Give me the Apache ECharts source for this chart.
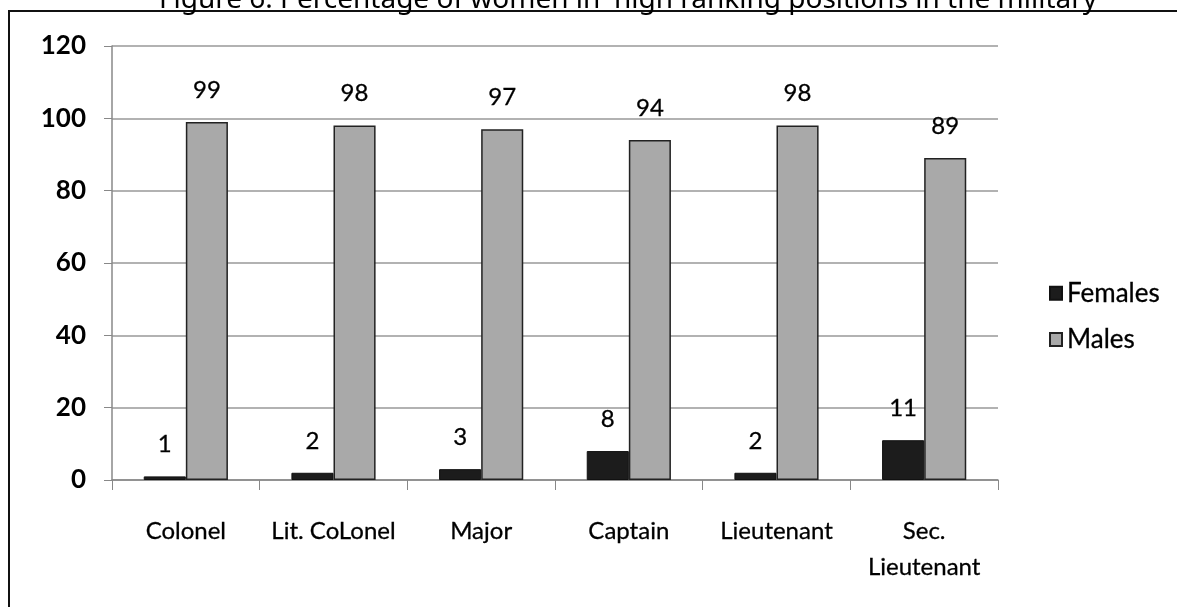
<!DOCTYPE html>
<html>
<head>
<meta charset="utf-8">
<script src="https://cdn.jsdelivr.net/npm/echarts@6/dist/echarts.min.js"></script>
<style>html,body{margin:0;padding:0;background:#fff}#c{width:1177px;height:607px}</style>
</head>
<body>
<div id="c"></div>
<script>
const titleText = "Figure 6: Percentage of women in 'high ranking positions in the military";
const categories = ['Colonel', 'Lit. CoLonel', 'Major', 'Captain', 'Lieutenant', 'Sec.\nLieutenant'];
const females = [1, 2, 3, 8, 2, 11];
const males = [99, 98, 97, 94, 98, 89];
const seriesNames = ['Females', 'Males'];

const chart = echarts.init(document.getElementById('c'));
const thick = {textBorderColor: '#000', textBorderWidth: 0.3};
const lbl = Object.assign({show: true, position: 'top', distance: 20, fontFamily: 'Lato', fontSize: 24, color: '#000'}, thick);
chart.setOption({
  animation: false,
  backgroundColor: '#fff',
  graphic: [
    {type: 'polyline', shape: {points: [[9, 607], [9, 11], [1177, 11]]}, style: {stroke: '#111', lineWidth: 2, fill: null}},
    {type: 'text', x: 628, y: 14, style: {text: titleText, fontFamily: 'Noto Sans', fontSize: 28, fill: '#000', textAlign: 'center', textVerticalAlign: 'bottom', verticalAlign: 'bottom'}}
  ],
  grid: {left: 112, right: 179, top: 46, bottom: 127},
  legend: {
    orient: 'vertical', left: 1044, top: 275, itemGap: 20, itemWidth: 12, itemHeight: 13, icon: 'rect',
    textStyle: Object.assign({fontFamily: 'Lato', fontSize: 26, color: '#000'}, thick),
    data: seriesNames
  },
  xAxis: {
    type: 'category', data: categories,
    axisLine: {lineStyle: {color: '#888', width: 1.5}},
    axisTick: {show: true, length: 10, alignWithLabel: false, lineStyle: {color: '#888'}},
    axisLabel: Object.assign({fontFamily: 'Lato', fontSize: 24, color: '#000', margin: 33, lineHeight: 36, interval: 0}, thick)
  },
  yAxis: {
    type: 'value', min: 0, max: 120, interval: 20,
    axisLine: {show: true, lineStyle: {color: '#888', width: 1.5}},
    axisTick: {show: true, length: 8, lineStyle: {color: '#888'}},
    splitLine: {lineStyle: {color: '#999', width: 1.5}},
    axisLabel: {fontFamily: 'Lato', fontWeight: 'bold', fontSize: 26, color: '#000', margin: 26}
  },
  series: [
    {name: seriesNames[0], type: 'bar', data: females, barGap: '0%', barCategoryGap: '43%',
     itemStyle: {color: '#1c1c1c', borderColor: '#111', borderWidth: 1}, label: lbl},
    {name: seriesNames[1], type: 'bar', data: males,
     itemStyle: {color: '#a9a9a9', borderColor: '#222', borderWidth: 1.5}, label: lbl}
  ]
});
</script>
</body>
</html>
